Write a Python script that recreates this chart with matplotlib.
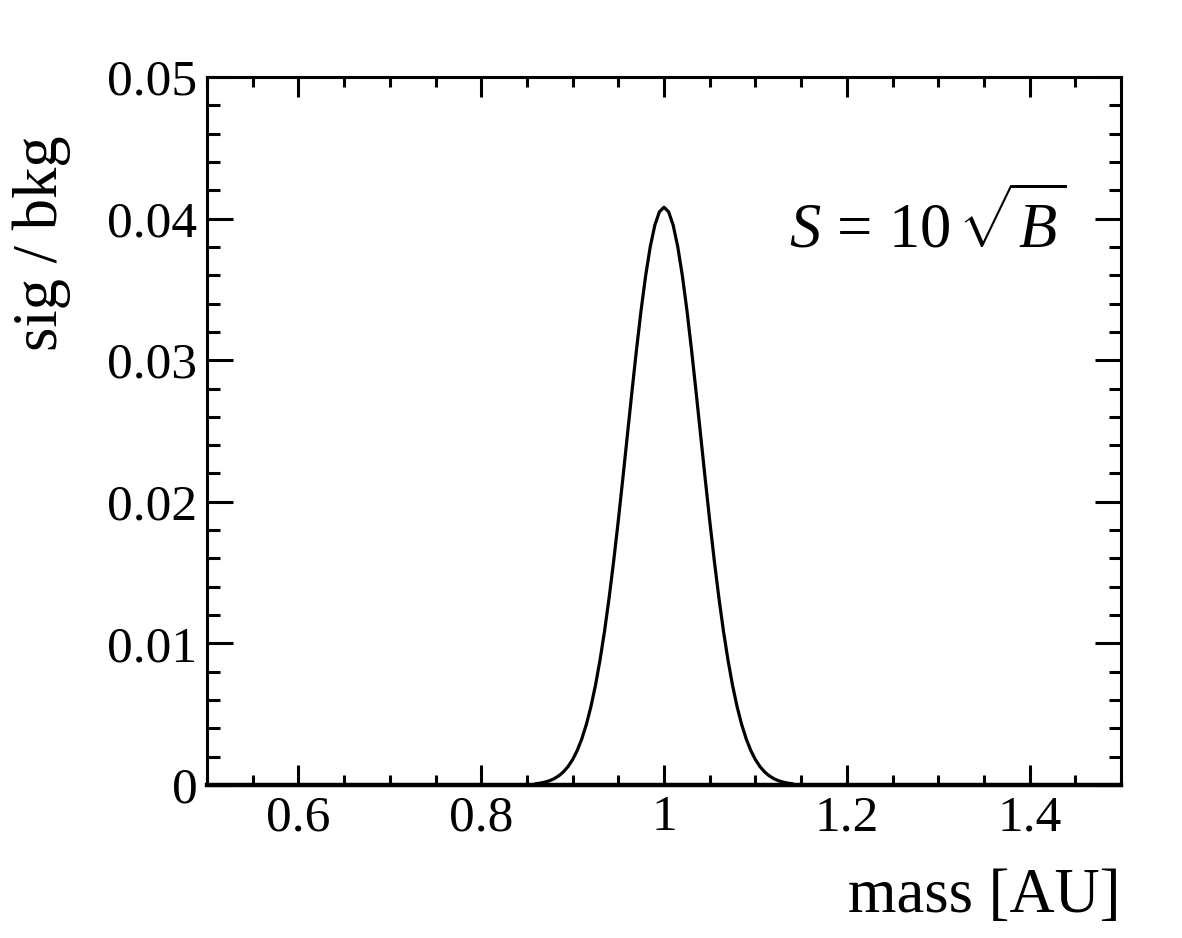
import matplotlib.pyplot as plt
from matplotlib.ticker import MultipleLocator, FuncFormatter

# signal / background ratio
mass = [0.860, 0.865, 0.870, 0.875, 0.880, 0.885, 0.890, 0.895, 0.900, 0.905,
        0.910, 0.915, 0.920, 0.925, 0.930, 0.935, 0.940, 0.945, 0.950, 0.955,
        0.960, 0.965, 0.970, 0.975, 0.980, 0.985, 0.990, 0.995, 1.000, 1.005,
        1.010, 1.015, 1.020, 1.025, 1.030, 1.035, 1.040, 1.045, 1.050, 1.055,
        1.060, 1.065, 1.070, 1.075, 1.080, 1.085, 1.090, 1.095, 1.100, 1.105,
        1.110, 1.115, 1.120, 1.125, 1.130, 1.135, 1.140]
ratio = [0.000089, 0.000137, 0.000208, 0.000309, 0.000453, 0.000654, 0.000930,
         0.001301, 0.001793, 0.002431, 0.003246, 0.004267, 0.005522, 0.007035,
         0.008824, 0.010896, 0.013246, 0.015853, 0.018679, 0.021669, 0.024746,
         0.027823, 0.030797, 0.033561, 0.036006, 0.038030, 0.039545, 0.040483,
         0.040800,
         0.040483, 0.039545, 0.038030, 0.036006, 0.033561, 0.030797, 0.027823,
         0.024746, 0.021669, 0.018679, 0.015853, 0.013246, 0.010896, 0.008824,
         0.007035, 0.005522, 0.004267, 0.003246, 0.002431, 0.001793, 0.001301,
         0.000930, 0.000654, 0.000453, 0.000309, 0.000208, 0.000137, 0.000089]

plt.rcParams['font.family'] = 'Liberation Serif'
plt.rcParams['mathtext.fontset'] = 'custom'
plt.rcParams['mathtext.rm'] = 'Liberation Serif'
plt.rcParams['mathtext.it'] = 'Liberation Serif:italic'

fig = plt.figure(figsize=(11.82, 9.38), dpi=100)
ax = fig.add_axes([207/1182, 153/938, 914/1182, 708/938])

ax.plot(mass, ratio, color='black', lw=2.3)

ax.set_xlim(0.5, 1.5)
ax.set_ylim(0, 0.05)

ax.xaxis.set_major_locator(MultipleLocator(0.2))
ax.xaxis.set_minor_locator(MultipleLocator(0.05))
ax.yaxis.set_major_locator(MultipleLocator(0.01))
ax.yaxis.set_minor_locator(MultipleLocator(0.002))
fmt = FuncFormatter(lambda v, p: '%g' % round(v, 4))
ax.xaxis.set_major_formatter(fmt)
ax.yaxis.set_major_formatter(fmt)

ax.tick_params(which='both', direction='in', top=True, right=True, width=2.2,
               labelsize=37, color='black')
ax.tick_params(axis='x', which='major', length=14.5, pad=7)
ax.tick_params(axis='x', which='minor', length=7.5)
ax.tick_params(axis='y', which='major', length=18.5, pad=7)
ax.tick_params(axis='y', which='minor', length=9)

for side in ['left', 'right', 'top']:
    ax.spines[side].set_linewidth(2.2)
ax.spines['bottom'].set_linewidth(3.2)

fig.text(1121/1182, (938-912)/938, 'mass [AU]', fontsize=45,
         ha='right', va='baseline')
fig.text(42/1182, (938-135)/938, 'sig / bkg', fontsize=45, rotation=90,
         ha='center', va='top')
fig.text(1066/1182, (938-248)/938, r'$S\,=\,10\,\sqrt{B}$', fontsize=45,
         ha='right', va='baseline')

fig.savefig('out.png', dpi=100)
